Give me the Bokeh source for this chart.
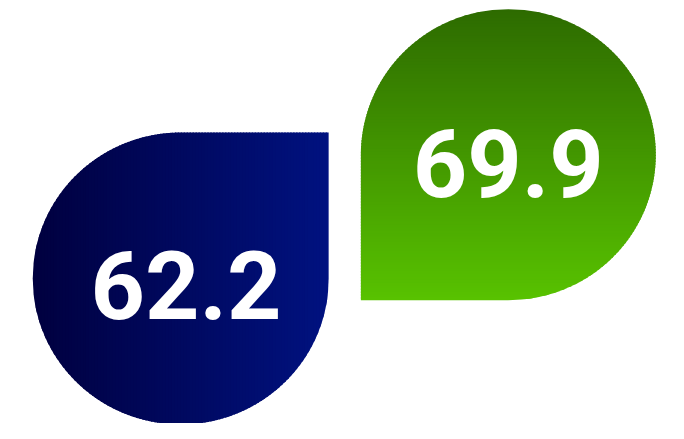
import numpy as np
from bokeh.plotting import figure
from bokeh.models import Range1d, ColumnDataSource
from bokeh.core.properties import value
from bokeh.embed import file_html
from bokeh.resources import INLINE

# ---- data ----
labels = ["62.2", "69.9"]
values = [62.2, 69.9]
gradient_start = ["#00003f", "#2d6b00"]
gradient_end = ["#001280", "#58c200"]
gradient_dir = ["horizontal", "vertical"]

# drop geometry (reference pixel space): centre x, centre y, radius, square corner
centres_x = [184.5, 520.0]
centres_y = [288.5, 160.0]
radii = [151.5, 151.0]
corner = ["top_right", "bottom_left"]
label_x = [190.0, 520.0]
label_base_y = [295.5, 169.0]

W, H = 668, 423
p = figure(width=W, height=H, output_backend="svg", toolbar_location=None,
           x_range=Range1d(0, 684), y_range=Range1d(439, 0),
           min_border=0)
p.axis.visible = False
p.grid.visible = False
p.outline_line_color = None
p.background_fill_color = "white"
p.border_fill_color = "white"


def hex2rgb(h):
    h = h.lstrip("#")
    return np.array([int(h[i:i + 2], 16) for i in (0, 2, 4)], dtype=float)


def mix(c0, c1, t):
    c = hex2rgb(c0) * (1 - t) + hex2rgb(c1) * t
    return "#%02x%02x%02x" % tuple(int(round(v)) for v in c)


N = 100
OV = 1.5  # overlap between strips to hide seams
for i in range(2):
    cx, cy, r = centres_x[i], centres_y[i], radii[i]
    xs_list, ys_list, cols = [], [], []
    edges = np.linspace(-r, r, N + 1)
    for k in range(N):
        a = edges[k]
        b = min(edges[k + 1] + OV, r)
        tt = np.linspace(a, b, 6)
        half = np.sqrt(np.clip(r ** 2 - tt ** 2, 0, None))
        col = mix(gradient_start[i], gradient_end[i], (k + 0.5) / N)
        if gradient_dir[i] == "horizontal":
            xx = cx + tt
            bot = cy + half
            if corner[i] == "top_right":
                top = np.where(tt > 0, cy - r, cy - half)
            else:
                top = cy - half
            xs_list.append([float(v) for v in list(xx) + list(xx[::-1])])
            ys_list.append([float(v) for v in list(bot) + list(top[::-1])])
        else:
            yy = cy + tt
            right = cx + half
            if corner[i] == "bottom_left":
                left = np.where(tt > 0, cx - r, cx - half)
            else:
                left = cx - half
            xs_list.append([float(v) for v in list(right) + list(left[::-1])])
            ys_list.append([float(v) for v in list(yy) + list(yy[::-1])])
        cols.append(col)
    src = ColumnDataSource(dict(xs=xs_list, ys=ys_list, c=cols))
    p.patches("xs", "ys", source=src, fill_color="c", line_color=None)

tsrc = ColumnDataSource(dict(x=label_x, y=label_base_y, t=labels))
p.text(x="x", y="y", text="t", source=tsrc, text_color="white",
       text_font=value("Roboto"), text_font_style="bold", text_font_size="95px",
       text_align="center", text_baseline="alphabetic")

open("out.html", "w").write(file_html(p, INLINE))
